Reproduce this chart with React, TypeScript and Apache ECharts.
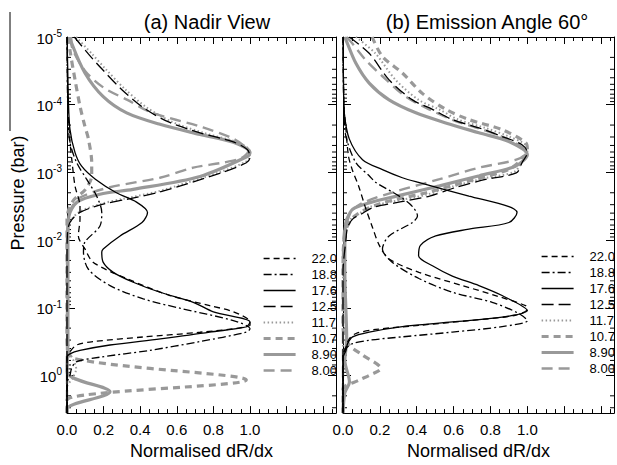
import React, { useEffect, useRef } from 'react';
import * as echarts from 'echarts';

// Legend names (wavelengths, micron)
const names = ['22.0', '18.8', '17.6', '12.5', '11.7', '10.7', '8.90', '8.00'];

// Panel (a) Nadir View : [normalised dR/dx, pressure (bar)]
const nadir220 = [[0.0, 1e-5], [0.005, 1e-4], [0.015, 3.2e-4], [0.03, 8e-4], [0.044, 1.6e-3], [0.071, 3.2e-3], [0.071, 4.9e-3], [0.062, 8.7e-3], [0.098, 1.35e-2], [0.144, 2.14e-2], [0.326, 3.7e-2], [0.563, 6.6e-2], [0.78, 9.3e-2], [0.91, 0.115], [1.0, 0.162], [0.98, 0.19], [0.727, 0.23], [0.417, 0.27], [0.144, 0.316], [0.053, 0.355], [0.016, 0.447], [0.0, 0.56], [0.0, 3.6]];
const nadir188 = [[0.0, 1e-5], [0.005, 1.5e-4], [0.016, 3.6e-4], [0.053, 7.2e-4], [0.107, 1.26e-3], [0.162, 2.24e-3], [0.19, 3.9e-3], [0.18, 6.2e-3], [0.098, 1.07e-2], [0.09, 1.5e-2], [0.117, 2.7e-2], [0.235, 4.7e-2], [0.417, 7.4e-2], [0.62, 0.102], [0.909, 0.155], [1.0, 0.204], [0.98, 0.229], [0.727, 0.316], [0.45, 0.427], [0.18, 0.537], [0.05, 0.63], [0.025, 0.79], [0.016, 1.0], [0.0, 1.3], [0.0, 3.6]];
const nadir176 = [[0.0, 1e-5], [0.004, 3e-5], [0.007, 7.6e-5], [0.016, 2.3e-4], [0.044, 5.1e-4], [0.08, 8.1e-4], [0.155, 1.26e-3], [0.27, 2e-3], [0.38, 2.75e-3], [0.44, 3.9e-3], [0.41, 5.5e-3], [0.29, 8.7e-3], [0.198, 1.35e-2], [0.19, 1.5e-2], [0.198, 2.14e-2], [0.253, 3e-2], [0.362, 4.2e-2], [0.508, 5.9e-2], [0.69, 8.3e-2], [0.8, 0.115], [1.0, 0.162], [1.0, 0.182], [0.78, 0.229], [0.51, 0.288], [0.235, 0.355], [0.071, 0.427], [0.016, 0.479], [0.0, 0.537], [0.0, 3.6]];
const nadir125 = [[0.04, 1e-5], [0.12, 1.82e-5], [0.19, 2.95e-5], [0.3, 6e-5], [0.42, 1.12e-4], [0.555, 1.8e-4], [0.727, 2.6e-4], [0.909, 3.55e-4], [0.985, 4.6e-4], [1.0, 6e-4], [0.98, 7.2e-4], [0.85, 1e-3], [0.508, 1.95e-3], [0.326, 2.5e-3], [0.198, 2.95e-3], [0.071, 3.9e-3], [0.016, 5.5e-3], [0.002, 8.7e-3], [0.0, 2e-2], [0.0, 3.6]];
const nadir117 = [[0.05, 1e-5], [0.14, 1.82e-5], [0.21, 2.95e-5], [0.32, 6e-5], [0.44, 1.12e-4], [0.575, 1.8e-4], [0.745, 2.6e-4], [0.925, 3.55e-4], [0.995, 4.6e-4], [1.0, 5.8e-4], [0.975, 7e-4], [0.84, 9.8e-4], [0.5, 1.9e-3], [0.31, 2.45e-3], [0.19, 2.9e-3], [0.07, 3.8e-3], [0.02, 5.2e-3], [0.005, 8e-3], [0.0, 3e-2], [0.01, 0.4], [0.05, 0.8], [0.03, 1.1], [0.0, 1.5], [0.0, 3.6]];
const nadir107 = [[0.01, 1e-5], [0.016, 1.55e-5], [0.044, 4.3e-5], [0.071, 1.05e-4], [0.098, 2.1e-4], [0.117, 3.2e-4], [0.135, 7.2e-4], [0.135, 1.12e-3], [0.1, 1.8e-3], [0.04, 2.5e-3], [0.01, 3.5e-3], [0.0, 5e-3], [0.0, 0.3], [0.035, 0.56], [0.98, 1.17], [0.0, 2.3], [0.0, 3.6]];
const nadir890 = [[0.02, 1e-5], [0.025, 1.23e-5], [0.098, 3.4e-5], [0.198, 7.6e-5], [0.326, 1.32e-4], [0.508, 1.95e-4], [0.727, 2.75e-4], [0.909, 3.6e-4], [1.0, 5.1e-4], [0.99, 5.75e-4], [0.727, 1.15e-3], [0.361, 1.78e-3], [0.18, 2.1e-3], [0.055, 2.75e-3], [0.01, 4.5e-3], [0.005, 1e-2], [0.005, 0.3], [0.0, 0.89], [0.235, 1.74], [0.0, 3.1], [0.0, 3.6]];
const nadir800 = [[0.02, 1e-5], [0.03, 1.5e-5], [0.1, 3.2e-5], [0.2, 5.6e-5], [0.33, 8.5e-5], [0.46, 1.3e-4], [0.727, 2.1e-4], [0.91, 3.2e-4], [0.99, 4.9e-4], [0.95, 6.2e-4], [0.85, 7.2e-4], [0.69, 8.5e-4], [0.508, 1.2e-3], [0.235, 1.66e-3], [0.071, 2.35e-3], [0.025, 3.3e-3], [0.007, 4.9e-3], [0.0, 1e-2], [0.0, 3.6]];

// Panel (b) Emission Angle 60 deg
const emis220 = [[0.0, 1e-5], [0.005, 1e-4], [0.016, 2.3e-4], [0.03, 5.8e-4], [0.05, 9.1e-4], [0.085, 1.6e-3], [0.12, 3.2e-3], [0.16, 6.5e-3], [0.197, 1.2e-2], [0.25, 1.9e-2], [0.412, 3e-2], [0.647, 4.7e-2], [0.827, 6.6e-2], [0.99, 9.3e-2], [1.0, 0.105], [0.935, 0.129], [0.683, 0.155], [0.412, 0.182], [0.178, 0.209], [0.07, 0.24], [0.034, 0.288], [0.016, 0.38], [0.0, 0.55], [0.0, 3.6]];
const emis188 = [[0.0, 1e-5], [0.005, 1.2e-4], [0.016, 2.95e-4], [0.07, 7.2e-4], [0.142, 1.12e-3], [0.178, 1.41e-3], [0.305, 2.24e-3], [0.377, 3.2e-3], [0.404, 4.4e-3], [0.377, 5.5e-3], [0.25, 8.7e-3], [0.214, 1.35e-2], [0.268, 2.14e-2], [0.412, 3.7e-2], [0.593, 5.9e-2], [0.809, 8.3e-2], [0.95, 0.12], [1.0, 0.155], [0.863, 0.19], [0.593, 0.229], [0.322, 0.269], [0.142, 0.302], [0.052, 0.339], [0.016, 0.4], [0.0, 0.5], [0.0, 3.6]];
const emis176 = [[0.0, 1e-5], [0.003, 6e-5], [0.007, 1.32e-4], [0.034, 3.2e-4], [0.106, 6.5e-4], [0.214, 9.1e-4], [0.322, 1.2e-3], [0.41, 1.41e-3], [0.683, 2.24e-3], [0.9, 3.2e-3], [0.944, 3.9e-3], [0.9, 5.5e-3], [0.683, 6.9e-3], [0.503, 8.7e-3], [0.42, 1.2e-2], [0.41, 1.7e-2], [0.485, 2.4e-2], [0.593, 3.4e-2], [0.737, 4.7e-2], [0.863, 6.6e-2], [1.0, 0.11], [0.863, 0.138], [0.593, 0.162], [0.322, 0.19], [0.142, 0.229], [0.052, 0.269], [0.025, 0.339], [0.016, 0.427], [0.0, 0.55], [0.0, 3.6]];
const emis125 = [[0.034, 1e-5], [0.142, 1.74e-5], [0.25, 4.3e-5], [0.377, 8.5e-5], [0.485, 1.17e-4], [0.593, 1.66e-4], [0.737, 2.2e-4], [0.863, 2.95e-4], [0.971, 3.9e-4], [1.0, 5.1e-4], [0.971, 7.2e-4], [0.94, 1.02e-3], [0.78, 1.26e-3], [0.615, 1.66e-3], [0.47, 2.24e-3], [0.29, 2.8e-3], [0.164, 3.3e-3], [0.1, 4.1e-3], [0.052, 4.9e-3], [0.025, 6.5e-3], [0.016, 9.8e-3], [0.0, 3e-2], [0.0, 3.6]];
const emis117 = [[0.07, 1e-5], [0.175, 1.74e-5], [0.285, 4.3e-5], [0.41, 8.5e-5], [0.52, 1.17e-4], [0.625, 1.66e-4], [0.77, 2.2e-4], [0.9, 2.95e-4], [0.99, 3.9e-4], [1.0, 5e-4], [0.97, 7e-4], [0.93, 9.8e-4], [0.77, 1.22e-3], [0.6, 1.6e-3], [0.45, 2.15e-3], [0.27, 2.7e-3], [0.15, 3.2e-3], [0.09, 4e-3], [0.045, 4.8e-3], [0.02, 6.5e-3], [0.01, 1e-2], [0.0, 3e-2], [0.0, 3.6]];
const emis107 = [[0.158, 1e-5], [0.214, 1.95e-5], [0.322, 3.4e-5], [0.43, 6.8e-5], [0.557, 1.17e-4], [0.683, 1.66e-4], [0.863, 2.34e-4], [0.99, 3.6e-4], [1.0, 4.5e-4], [0.98, 6e-4], [0.9, 9e-4], [0.7, 1.3e-3], [0.45, 2e-3], [0.2, 2.9e-3], [0.06, 4.5e-3], [0.01, 8e-3], [0.0, 3e-2], [0.0, 0.2], [0.034, 0.355], [0.106, 0.5], [0.205, 0.79], [0.142, 1.0], [0.088, 1.17], [0.0, 1.6], [0.0, 3.6]];
const emis890 = [[0.01, 1e-5], [0.016, 1.1e-5], [0.07, 2.45e-5], [0.142, 4.8e-5], [0.25, 8.5e-5], [0.395, 1.32e-4], [0.557, 1.86e-4], [0.737, 2.6e-4], [0.9, 3.5e-4], [1.0, 5.5e-4], [0.935, 8.1e-4], [0.74, 1.12e-3], [0.524, 1.58e-3], [0.29, 2.24e-3], [0.146, 2.8e-3], [0.052, 3.5e-3], [0.025, 4.9e-3], [0.01, 7.8e-3], [0.01, 3e-2], [0.02, 0.3], [0.01, 0.6], [0.035, 1.25], [0.01, 1.8], [0.0, 3.6]];
const emis800 = [[0.02, 1e-5], [0.052, 1.26e-5], [0.124, 2.2e-5], [0.214, 3.8e-5], [0.34, 7.6e-5], [0.467, 1.17e-4], [0.6, 1.7e-4], [0.75, 2.3e-4], [0.88, 3.1e-4], [0.97, 4.2e-4], [0.99, 5.2e-4], [0.94, 6.5e-4], [0.74, 8.5e-4], [0.524, 1.26e-3], [0.29, 1.9e-3], [0.11, 2.8e-3], [0.038, 3.9e-3], [0.01, 6e-3], [0.0, 2e-2], [0.0, 3.6]];

// Axis ticks
const xTickLabels = ['0.0', '0.2', '0.4', '0.6', '0.8', '1.0'];
const logMantissas = [2, 3, 4, 5, 6, 7, 8, 9];
const logDecades = [-5, -4, -3, -2, -1, 0];

const nadirData = [nadir220, nadir188, nadir176, nadir125, nadir117, nadir107, nadir890, nadir800];
const emisData = [emis220, emis188, emis176, emis125, emis117, emis107, emis890, emis800];

const BLACK = '#000000';
const GRAY = '#999999';
const lineStyles: any[] = [
  { color: BLACK, width: 1.3, type: [6, 4] },
  { color: BLACK, width: 1.3, type: [8, 3, 2, 3] },
  { color: BLACK, width: 1.3, type: 'solid' },
  { color: BLACK, width: 1.3, type: [12, 5] },
  { color: GRAY, width: 2, type: [1.5, 2.5] },
  { color: GRAY, width: 3.2, type: [7, 5] },
  { color: GRAY, width: 3.2, type: 'solid' },
  { color: GRAY, width: 2.4, type: [11, 6] },
];

const FONT = 'Liberation Sans, Arial, Helvetica, sans-serif';
const XMAX = 1.47;
const YMIN = 1e-5;
const YMAX = 3.6;

export default function App() {
  const ref = useRef<HTMLDivElement>(null);
  useEffect(() => {
    if (!ref.current) return;
    const chart = echarts.init(ref.current, undefined, { renderer: 'svg' });

    const minorTicks: number[][] = [];
    logDecades.forEach((d) => {
      logMantissas.forEach((m) => {
        const v = m * Math.pow(10, d);
        if (v < YMAX) minorTicks.push([0, v]);
      });
    });

    const xLabelFmt = (v: number) => {
      const s = v.toFixed(1);
      return xTickLabels.includes(s) && Math.abs(v - parseFloat(s)) < 1e-6 ? s : '';
    };
    const yLabelFmt = (v: number) => {
      const e = Math.log10(v);
      const n = Math.round(e);
      if (Math.abs(e - n) > 1e-6) return '';
      return `{b|10}{s|${n}}`;
    };

    const mkX = (grid: number, pos: 'top' | 'bottom', labels: boolean) => ({
      type: 'value',
      gridIndex: grid,
      position: pos,
      min: 0,
      max: XMAX,
      interval: 0.2,
      name: labels ? 'Normalised dR/dx' : '',
      nameLocation: 'middle',
      nameGap: 25,
      nameTextStyle: { fontSize: 18, color: '#000', fontFamily: FONT },
      axisLine: { show: true, onZero: false, lineStyle: { color: '#000', width: 1 } },
      axisTick: { show: true, inside: true, length: 7, lineStyle: { color: '#000' } },
      minorTick: { show: true, splitNumber: 4, length: 4, lineStyle: { color: '#000' } },
      axisLabel: { show: labels, formatter: xLabelFmt, fontSize: 15, color: '#000', fontFamily: FONT, margin: 9 },
      splitLine: { show: false },
    });
    const mkY = (grid: number, pos: 'left' | 'right', labels: boolean) => ({
      type: 'log',
      gridIndex: grid,
      position: pos,
      inverse: true,
      min: YMIN,
      max: YMAX,
      logBase: 10,
      axisLine: { show: true, onZero: false, lineStyle: { color: '#000', width: 1 } },
      axisTick: { show: true, inside: true, length: 8, lineStyle: { color: '#000' } },
      axisLabel: {
        show: labels,
        formatter: yLabelFmt,
        margin: 5,
        rich: {
          b: { fontSize: 15, color: '#000', fontFamily: FONT, lineHeight: 17, verticalAlign: 'bottom' },
          s: { fontSize: 10, color: '#000', fontFamily: FONT, lineHeight: 11, verticalAlign: 'top' },
        },
      },
      splitLine: { show: false },
    });

    const lineSeries = (data: number[][][], ax: number) =>
      data.map((d, i) => ({
        type: 'line',
        name: names[i],
        xAxisIndex: ax,
        yAxisIndex: ax,
        data: d,
        showSymbol: false,
        symbol: 'none',
        smooth: 0.3,
        lineStyle: lineStyles[i],
        itemStyle: { color: lineStyles[i].color },
        z: 10 - i,
      }));

    const tickSeries = (ax: number) => ({
      type: 'custom',
      xAxisIndex: ax,
      yAxisIndex: ax,
      data: minorTicks,
      silent: true,
      clip: false,
      renderItem: (params: any, api: any) => {
        const p = api.value(1);
        const l = api.coord([0, p]);
        const r = api.coord([XMAX, p]);
        return {
          type: 'group',
          children: [
            { type: 'line', shape: { x1: l[0], y1: l[1], x2: l[0] + 4, y2: l[1] }, style: { stroke: '#000', lineWidth: 1 } },
            { type: 'line', shape: { x1: r[0], y1: r[1], x2: r[0] - 4, y2: r[1] }, style: { stroke: '#000', lineWidth: 1 } },
          ],
        };
      },
    });

    const legendCommon = {
      data: names,
      orient: 'vertical',
      itemWidth: 32,
      itemHeight: 12,
      itemGap: 3,
      selectedMode: false,
      itemStyle: { opacity: 0 },
      lineStyle: { width: 'inherit' },
      textStyle: { fontSize: 13, color: '#000', fontFamily: FONT, padding: [0, 0, 0, 11] },
    };

    chart.setOption({
      animation: false,
      backgroundColor: '#ffffff',
      grid: [
        { left: 67, top: 37, width: 269, height: 378 },
        { left: 343, top: 37, width: 272, height: 378 },
      ],
      xAxis: [mkX(0, 'bottom', true), mkX(0, 'top', false), mkX(1, 'bottom', true), mkX(1, 'top', false)],
      yAxis: [mkY(0, 'left', true), mkY(0, 'right', false), mkY(1, 'left', false), mkY(1, 'right', false)],
      legend: [
        { ...legendCommon, left: 257, top: 247 },
        { ...legendCommon, left: 535, top: 245 },
      ],
      graphic: [
        { type: 'text', x: 207, y: 22, style: { text: '(a) Nadir View', fontSize: 20, fontFamily: FONT, fill: '#000', textAlign: 'center', textVerticalAlign: 'middle' } },
        { type: 'text', x: 487, y: 22, style: { text: '(b) Emission Angle 60°', fontSize: 20, fontFamily: FONT, fill: '#000', textAlign: 'center', textVerticalAlign: 'middle' } },
        { type: 'text', x: 18, y: 193, rotation: Math.PI / 2, style: { text: 'Pressure (bar)', fontSize: 18, fontFamily: FONT, fill: '#000', textAlign: 'center', textVerticalAlign: 'middle' } },
        { type: 'line', shape: { x1: 10, y1: 12, x2: 10, y2: 131 }, style: { stroke: '#000', lineWidth: 1 } },
      ],
      series: [...lineSeries(nadirData, 0), ...lineSeries(emisData, 2), tickSeries(0), tickSeries(2)],
    });
    return () => chart.dispose();
  }, []);
  return <div ref={ref} style={{ position: 'absolute', left: 0, top: 0, width: 617, height: 465 }} />;
}
